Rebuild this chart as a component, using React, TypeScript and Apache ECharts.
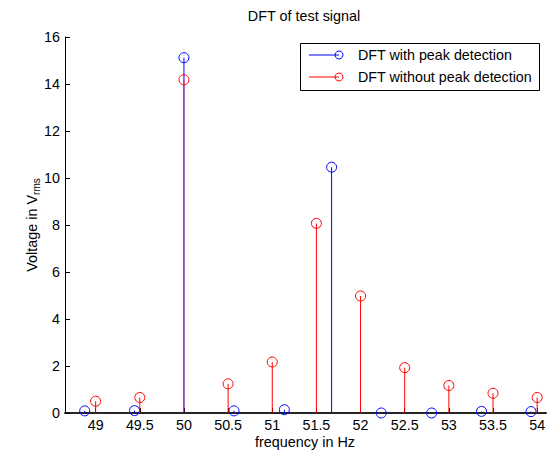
import React, { useEffect, useRef } from "react";
import * as echarts from "echarts";

const xTicks = [49, 49.5, 50, 50.5, 51, 51.5, 52, 52.5, 53, 53.5, 54];
const yTicks = [0, 2, 4, 6, 8, 10, 12, 14, 16];

const peakFreq = [48.876, 49.44, 50.0, 50.567, 51.137, 51.672, 52.234, 52.805, 53.37, 53.93];
const peakVal = [0.09, 0.1, 15.12, 0.09, 0.14, 10.46, 0.0, 0.0, 0.07, 0.06];

const plainFreq = [49, 49.5, 50, 50.5, 51, 51.5, 52, 52.5, 53, 53.5, 54];
const plainVal = [0.5, 0.66, 14.18, 1.24, 2.17, 8.07, 4.98, 1.93, 1.17, 0.84, 0.66];

const FONT = "'Liberation Sans', Arial, Helvetica, sans-serif";
const BLUE = "#0000ff";
const RED = "#ff0000";

function stemRenderer(color: string, other: number[] | null) {
  return (params: any, api: any) => {
    const x = api.value(0);
    const y = api.value(1);
    const p0 = api.coord([x, 0]);
    const p1 = api.coord([x, y]);
    const overlaps = other ? other.some((o) => Math.abs(o - x) < 1e-6) : false;
    return {
      type: "group",
      children: [
        {
          type: "line",
          shape: { x1: p0[0], y1: p0[1], x2: p1[0], y2: p1[1] },
          style: { stroke: color, lineWidth: 1, opacity: overlaps ? 0.6 : 1 },
        },
        {
          type: "circle",
          shape: { cx: p1[0], cy: p1[1], r: 5 },
          style: { fill: "none", stroke: color, lineWidth: 1 },
        },
      ],
    };
  };
}

export default function App() {
  const ref = useRef<HTMLDivElement>(null);
  useEffect(() => {
    if (!ref.current) return;
    const chart = echarts.init(ref.current, null, { renderer: "svg" });
    const gl = { left: 65, right: 4, top: 37, bottom: 39 };
    chart.setOption({
      animation: false,
      backgroundColor: "#ffffff",
      textStyle: { fontFamily: FONT },
      grid: { ...gl, containLabel: false },
      xAxis: {
        type: "value",
        min: 48.653,
        max: 54.1,
        splitLine: { show: false },
        axisLine: { show: true, onZero: false, lineStyle: { color: "#262626", width: 2 } },
        axisTick: { show: true, inside: true, length: 5, customValues: xTicks, lineStyle: { color: "#000" } },
        axisLabel: {
          customValues: xTicks,
          color: "#000",
          fontSize: 14.3,
          fontFamily: FONT,
          margin: 5,
          formatter: (v: number) => String(v),
        },
      },
      yAxis: {
        type: "value",
        min: 0,
        max: 16,
        interval: 2,
        splitLine: { show: false },
        axisLine: { show: true, lineStyle: { color: "#000", width: 1 } },
        axisTick: { show: true, inside: true, length: 5, lineStyle: { color: "#000" } },
        axisLabel: {
          color: "#000",
          fontSize: 14.3,
          fontFamily: FONT,
          margin: 5,
          customValues: yTicks,
        },
      },
      series: [
        {
          type: "custom",
          name: "DFT with peak detection",
          renderItem: stemRenderer(BLUE, null),
          data: peakFreq.map((f, i) => [f, peakVal[i]]),
          z: 2,
        },
        {
          type: "custom",
          name: "DFT without peak detection",
          renderItem: stemRenderer(RED, peakFreq),
          data: plainFreq.map((f, i) => [f, plainVal[i]]),
          z: 3,
        },
      ],
      graphic: [
        {
          type: "text",
          x: 304,
          y: 16,
          style: {
            text: "DFT of test signal",
            fontSize: 14.4,
            fontFamily: FONT,
            fill: "#000",
            align: "center",
            verticalAlign: "middle",
          },
        },
        {
          type: "text",
          x: 305,
          y: 442,
          style: {
            text: "frequency in Hz",
            fontSize: 14.4,
            fontFamily: FONT,
            fill: "#000",
            align: "center",
            verticalAlign: "middle",
          },
        },
        {
          type: "text",
          x: 32,
          y: 225,
          rotation: Math.PI / 2,
          style: {
            text: "{a|Voltage in V}{s|rms}",
            align: "center",
            verticalAlign: "middle",
            rich: {
              a: { fontSize: 14.4, fontFamily: FONT, fill: "#000", lineHeight: 18, verticalAlign: "middle" },
              s: { fontSize: 10, fontFamily: FONT, fill: "#000", lineHeight: 18, verticalAlign: "bottom", padding: [8, 0, 0, 0] },
            },
          },
        },
        {
          type: "rect",
          shape: { x: 300.5, y: 43.5, width: 239, height: 47 },
          style: { fill: "#fff", stroke: "#000", lineWidth: 1 },
          z: 10,
        },
        {
          type: "line",
          shape: { x1: 309, y1: 55, x2: 339, y2: 55 },
          style: { stroke: BLUE, lineWidth: 1 },
          z: 11,
        },
        {
          type: "circle",
          shape: { cx: 339, cy: 55, r: 4 },
          style: { fill: "none", stroke: BLUE, lineWidth: 1 },
          z: 11,
        },
        {
          type: "line",
          shape: { x1: 309, y1: 77, x2: 339, y2: 77 },
          style: { stroke: RED, lineWidth: 1 },
          z: 11,
        },
        {
          type: "circle",
          shape: { cx: 339, cy: 77, r: 4 },
          style: { fill: "none", stroke: RED, lineWidth: 1 },
          z: 11,
        },
        {
          type: "text",
          x: 358,
          y: 55,
          style: {
            text: "DFT with peak detection",
            fontSize: 14.3,
            fontFamily: FONT,
            fill: "#000",
            align: "left",
            verticalAlign: "middle",
          },
          z: 11,
        },
        {
          type: "text",
          x: 358,
          y: 77,
          style: {
            text: "DFT without peak detection",
            fontSize: 14.3,
            fontFamily: FONT,
            fill: "#000",
            align: "left",
            verticalAlign: "middle",
          },
          z: 11,
        },
      ],
    });
    return () => chart.dispose();
  }, []);
  return <div ref={ref} style={{ position: "fixed", left: 0, top: 0, width: 550, height: 452 }} />;
}
